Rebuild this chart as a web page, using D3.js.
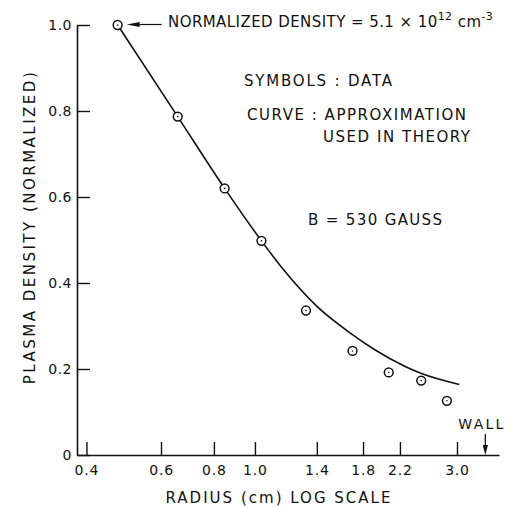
<!DOCTYPE html>
<html>
<head>
<meta charset="utf-8">
<script src="https://cdn.jsdelivr.net/npm/d3@7"></script>
<style>
  body { margin: 0; background: #fff; }
  svg { display: block; }
  text { font-family: "DejaVu Sans", "Liberation Sans", Arial, sans-serif; fill: #111; }
</style>
</head>
<body>
<svg id="chart" width="515" height="506"></svg>
<script>
// Measured plasma density profile (symbols)
const radius  = [0.474, 0.657, 0.848, 1.036, 1.32, 1.70, 2.07, 2.47, 2.84];
const density = [1.0, 0.787, 0.620, 0.498, 0.336, 0.242, 0.192, 0.173, 0.126];

// Profile approximation used in the theory (curve)
const curveRadius  = [0.474, 0.657, 0.848, 1.036, 1.17, 1.403, 1.683, 1.911, 2.251, 2.465, 3.038];
const curveDensity = [1.0, 0.787, 0.620, 0.498, 0.430, 0.345, 0.283, 0.246, 0.207, 0.190, 0.164];

const xTicks = [0.4, 0.6, 0.8, 1.0, 1.4, 1.8, 2.2, 3.0];
const yTicks = [0, 0.2, 0.4, 0.6, 0.8, 1.0];
const wallRadius = 3.5;

const svg = d3.select("#chart");
const x = d3.scaleLog().domain([0.38, 3.77]).range([77, 499]);
const y = d3.scaleLinear().domain([0, 1]).range([455, 25]);

// stretch a text element to a given width via letter spacing
function spread(node, width) {
  node.setAttribute("letter-spacing", 0);
  const w = node.getComputedTextLength();
  const n = node.textContent.length;
  node.setAttribute("letter-spacing", ((width - w) / (n - 1)).toFixed(2));
}

// axes with inward ticks
const xAxis = d3.axisBottom(x)
  .tickValues(xTicks)
  .tickFormat(d3.format(".1f"))
  .tickSizeInner(-13).tickSizeOuter(0).tickPadding(10);

const yAxis = d3.axisLeft(y)
  .tickValues(yTicks)
  .tickFormat(d => d === 0 ? "0" : d3.format(".1f")(d))
  .tickSizeInner(-13).tickSizeOuter(0).tickPadding(6);

const gx = svg.append("g").attr("transform", `translate(0,${y(0)})`).call(xAxis);
const gy = svg.append("g").attr("transform", `translate(${x.range()[0]},0)`).call(yAxis);

[gx, gy].forEach(g => {
  g.attr("font-family", null).attr("font-size", null);
  g.select(".domain").attr("stroke", "#111").attr("stroke-width", 1.6);
  g.selectAll(".tick line").attr("stroke", "#111").attr("stroke-width", 1.4);
  g.selectAll(".tick text").style("font-size", "14px").attr("fill", "#111");
});
gx.selectAll(".tick text").attr("letter-spacing", 0.8);
gy.selectAll(".tick text").attr("letter-spacing", 0.5).attr("dx", 1);

// axis titles
const yTitle = svg.append("text")
  .attr("transform", `translate(35,${(y(0.2) + y(1)) / 2 + 30}) rotate(-90)`)
  .attr("text-anchor", "middle")
  .style("font-size", "15px")
  .text("PLASMA DENSITY (NORMALIZED)");
spread(yTitle.node(), 312);

const xTitle = svg.append("text")
  .attr("x", 279).attr("y", 503)
  .attr("text-anchor", "middle")
  .style("font-size", "15px")
  .text("RADIUS (cm) LOG SCALE");
spread(xTitle.node(), 225);

// approximation curve
const line = d3.line()
  .x(d => x(d[0]))
  .y(d => y(d[1]))
  .curve(d3.curveMonotoneX);

svg.append("path")
  .datum(curveRadius.map((r, i) => [r, curveDensity[i]]))
  .attr("d", line)
  .attr("fill", "none")
  .attr("stroke", "#111")
  .attr("stroke-width", 1.6);

// data symbols: open circle with a center dot
const pts = svg.append("g").selectAll("g")
  .data(radius.map((r, i) => [r, density[i]]))
  .join("g")
  .attr("transform", d => `translate(${x(d[0])},${y(d[1])})`);
pts.append("circle").attr("r", 4.4).attr("fill", "#fff").attr("stroke", "#111").attr("stroke-width", 1.5);
pts.append("circle").attr("r", 0.8).attr("fill", "#111");

// normalization note with arrow pointing at the first symbol
const px0 = x(radius[0]), py0 = y(density[0]);
const tip = px0 + 9;
svg.append("line")
  .attr("x1", tip + 8).attr("x2", tip + 35)
  .attr("y1", py0 - 0.5).attr("y2", py0 - 0.5)
  .attr("stroke", "#111").attr("stroke-width", 1.2);
svg.append("path")
  .attr("d", `M${tip},${py0 - 0.5} L${tip + 13},${py0 - 3} L${tip + 13},${py0 + 2} Z`)
  .attr("fill", "#111");

const note = svg.append("text").attr("x", 168).attr("y", 27).style("font-size", "15px");
note.append("tspan").text("NORMALIZED DENSITY = 5.1 × 10");
note.append("tspan").attr("dy", -7).style("font-size", "11px").text("12");
note.append("tspan").attr("dy", 7).text(" cm");
note.append("tspan").attr("dy", -7).style("font-size", "11px").text("-3");
{
  const n = note.node();
  note.attr("letter-spacing", 0);
  const w = n.getComputedTextLength();
  const chars = n.textContent.length;
  note.attr("letter-spacing", ((325 - w) / (chars - 1)).toFixed(2));
}

// legend-like annotations
const notes = [
  { t: "SYMBOLS : DATA", x: 244, y: 86, w: 148 },
  { t: "CURVE : APPROXIMATION", x: 247, y: 120, w: 219 },
  { t: "USED IN THEORY", x: 323, y: 142, w: 147 },
  { t: "B = 530 GAUSS", x: 308, y: 225, w: 134 }
];
notes.forEach(d => {
  const t = svg.append("text").attr("x", d.x).attr("y", d.y).style("font-size", "15px").text(d.t);
  spread(t.node(), d.w);
});

// wall marker
const xw = x(wallRadius);
svg.append("line")
  .attr("x1", xw).attr("x2", xw)
  .attr("y1", y(0) - 21).attr("y2", y(0) - 6)
  .attr("stroke", "#111").attr("stroke-width", 1.3);
svg.append("path")
  .attr("d", `M${xw},${y(0)} L${xw - 2.6},${y(0) - 10} L${xw + 2.6},${y(0) - 10} Z`)
  .attr("fill", "#111");
const wall = svg.append("text").attr("x", xw - 27).attr("y", 429).style("font-size", "14px").text("WALL");
spread(wall.node(), 45);
</script>
</body>
</html>
